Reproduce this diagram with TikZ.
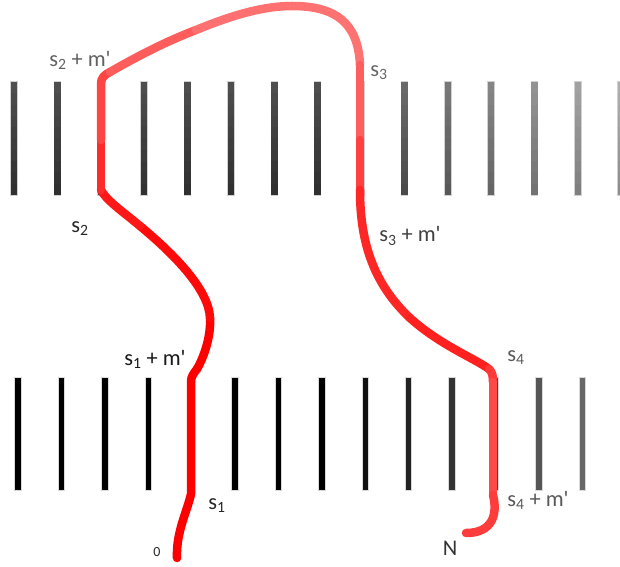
\documentclass[tikz,border=0pt]{standalone}
\usepackage{fontspec}
\setmainfont{Carlito}
\definecolor{rA}{HTML}{FF0000}
\definecolor{rB}{HTML}{FF0A0A}
\definecolor{rC}{HTML}{FF1818}
\definecolor{rD}{HTML}{FF2A2A}
\definecolor{rE}{HTML}{FF4444}
\definecolor{rF}{HTML}{FF5C5C}
\definecolor{rG}{HTML}{FF7070}
\definecolor{rH}{HTML}{FF7272}
\definecolor{rI}{HTML}{FF5E5E}
\definecolor{rJ}{HTML}{FF4040}
\definecolor{rK}{HTML}{FF2626}
\definecolor{rL}{HTML}{FF2020}
\definecolor{rM}{HTML}{FF3838}
\definecolor{rN}{HTML}{FF4848}
\definecolor{rO}{HTML}{FF3C3C}
\begin{document}
\begin{tikzpicture}[x=1bp,y=-1bp,
  wire/.style={line width=8.5bp,line cap=round,line join=round},
  lbl/.style={inner sep=0pt,font=\fontsize{22.5}{24}\selectfont},
  small/.style={inner sep=0pt,font=\fontsize{14}{16}\selectfont}]
\useasboundingbox (0,0) rectangle (620,567);
% top row of bars (vertical gradient built from thin slabs)
\foreach \k in {0,...,14}{
  \pgfmathsetmacro\xx{14.2+43.35*\k}
  \pgfmathsetmacro\d{max(0,\k-7)}
  \pgfmathsetmacro\tp{31+5.5*\d}
  \pgfmathsetmacro\bt{18+5.2*\d}
  \draw[black!18, line width=1.2bp] (\xx-3.2,82) rectangle (\xx+3.2,195);
  \foreach \j in {0,...,9}{
    \pgfmathsetmacro\gg{100-(\tp+(\bt-\tp)*(\j+0.5)/10)}
    \fill[black!\gg] (\xx-3.2,82+11.3*\j) rectangle (\xx+3.2,82+11.3*\j+11.4);
  }
}
% bottom row of bars
\foreach \k in {0,...,13}{
  \pgfmathsetmacro\xx{17.8+43.4*\k}
  \pgfmathsetmacro\g{100-6.7*max(0,\k-7)}
  \fill[black!\g, draw=black!15, line width=0.5bp]
    (\xx-3.2,377) rectangle (\xx+3.2,490);
}
% red path, piecewise shaded
\coordinate (p0) at (177,558);
\coordinate (p1) at (191,494);
\coordinate (p2) at (191,382);
\coordinate (p3) at (197,369);
\coordinate (p4) at (210,318);
\coordinate (p5) at (140,226);
\coordinate (p6) at (101,190);
\coordinate (p7) at (101,140);
\coordinate (p8) at (101,84);
\coordinate (p9) at (110,72);
\coordinate (p10) at (196,30);
\coordinate (p11) at (292,6);
\coordinate (p12) at (360,65);
\coordinate (p13) at (360,140);
\coordinate (p14) at (360,190);
\coordinate (p15) at (410,318);
\coordinate (p16) at (489,369);
\coordinate (p17) at (493,382);
\coordinate (p18) at (493,495);
\coordinate (p19) at (466,533);
\draw[wire,rA] (p0) .. controls (176,532) and (187,512) .. (p1) -- (p2)
  .. controls (191,376) and (194,373) .. (p3);
\draw[wire,rA] (p3) .. controls (205,355) and (211,335) .. (p4);
\draw[wire,rB] (p4) .. controls (209,290) and (175,255) .. (p5);
\draw[wire,rC] (p5) .. controls (122,211) and (106,200) .. (p6);
\draw[wire,rD] (p6) -- (p7);
\draw[wire,rE] (p7) -- (p8) .. controls (101,78) and (104,75) .. (p9);
\draw[wire,rF] (p9) .. controls (145,52) and (170,40) .. (p10);
\draw[wire,rG] (p10) .. controls (235,14) and (265,6) .. (p11);
\draw[wire,rH] (p11) .. controls (335,6) and (358,22) .. (p12);
\draw[wire,rI] (p12) -- (p13);
\draw[wire,rJ] (p13) -- (p14);
\draw[wire,rK] (p14) .. controls (360,245) and (375,285) .. (p15);
\draw[wire,rL] (p15) .. controls (440,345) and (474,358) .. (p16);
\draw[wire,rM] (p16) .. controls (492,372) and (493,375) .. (p17);
\draw[wire,rN] (p17) -- (p18);
\draw[wire,rO] (p18) .. controls (498,515) and (492,533) .. (p19);
% labels
\node[lbl,text=black!62] (ls2m) at (80,60) {s\textsubscript{2} + m\textquotesingle};
\node[lbl,text=black!60] (ls3) at (379,73) {s\textsubscript{3}};
\node[lbl,text=black!85] (ls2) at (80,229) {s\textsubscript{2}};
\node[lbl,text=black!75] (ls3m) at (410,236) {s\textsubscript{3} + m\textquotesingle};
\node[lbl,text=black!90] (ls1m) at (155,359) {s\textsubscript{1} + m\textquotesingle};
\node[lbl,text=black!65] (ls4) at (516,358) {s\textsubscript{4}};
\node[lbl,text=black!85] (ls1) at (217,506) {s\textsubscript{1}};
\node[small,text=black!85] (l0) at (157,552) {0};
\node[lbl,text=black!65] (ls4m) at (538,500) {s\textsubscript{4} + m\textquotesingle};
\node[lbl,text=black!80] (lN) at (450,548) {N};
\end{tikzpicture}
\end{document}
